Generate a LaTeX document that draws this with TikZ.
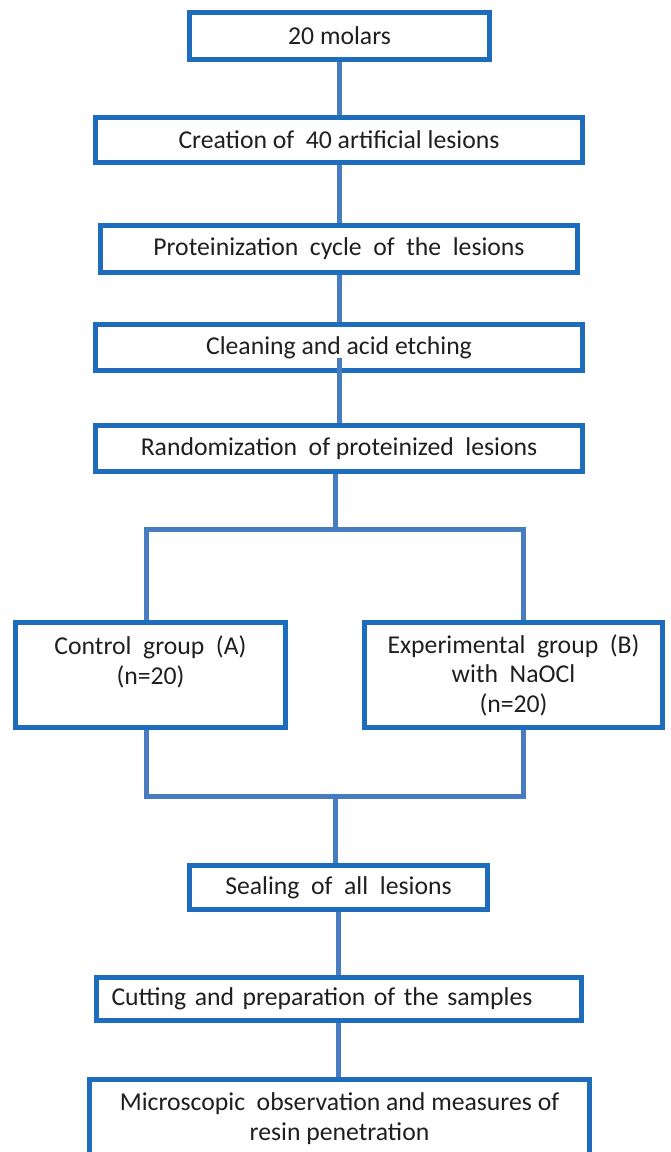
\documentclass[tikz,border=0pt]{standalone}
\usepackage{fontspec}
\setmainfont{Carlito}
\usetikzlibrary{calc}
\definecolor{boxblue}{RGB}{30,108,188}
\definecolor{lineblue}{RGB}{72,124,192}
\begin{document}
\begin{tikzpicture}[x=1pt,y=-1pt,
  box/.style={draw=boxblue, line width=5pt, fill=white, inner sep=0pt,
    font=\fontsize{25.7}{29.5}\selectfont, align=center, text=black!88},
  link/.style={draw=lineblue, line width=5pt}]
\useasboundingbox (0,0) rectangle (670,1152);

\node[box, minimum width=300pt, minimum height=47pt] (b1) at (339.5,36) {20 molars};
\node[box, minimum width=487pt, minimum height=45pt] (b2) at (339,140) {Creation of\ \ 40 artificial lesions};
\node[box, minimum width=477pt, minimum height=47pt] (b3) at (339,249) {Proteinization\ \ cycle\ \ of\ \ the\ \ lesions};
\node[box, minimum width=487pt, minimum height=46pt] (b4) at (339,347.5) {Cleaning and acid etching};
\node[box, minimum width=487pt, minimum height=46pt] (b5) at (339,448.5) {Randomization\ \ of proteinized\ \ lesions};
\node[box, minimum width=270pt, minimum height=105pt] (ctrl) at (150.5,675) {Control\ \ group\ \ (A)\\(n=20)\\\mbox{}};
\node[box, minimum width=298pt, minimum height=105pt] (exp) at (513.5,675) {Experimental\ \ group\ \ (B)\\with\ \ NaOCl\\(n=20)};
\node[box, minimum width=298pt, minimum height=44pt] (seal) at (338.5,887.5) {Sealing\ \ of\ \ all\ \ lesions};
\node[box, minimum height=43pt, text width=455pt, inner xsep=15pt, align=left] (cut) at (339,999) {Cutting and preparation of the samples};
\node[box, minimum width=500pt, minimum height=104pt] (micro) at (339.5,1131.5) {Microscopic\ \ observation and measures of\\resin penetration\\\mbox{}};

\draw[link] (b1.south) -- (b1.south |- b2.north);
\draw[link] (b2.south) -- (b2.south |- b3.north);
\draw[link] (b3.south) -- (b3.south |- b4.north);
\draw[link] ($(b4.south)+(0,-15)$) -- (b4.south |- b5.north);

\coordinate (split) at (335,529);
\coordinate (la) at ([xshift=-4.5pt]ctrl.north);
\coordinate (lb) at ([xshift=9.5pt]exp.north);
\draw[link] (b5.south -| split) -- (split);
\draw[link] (la) -- (la |- split) -- (lb |- split) -- (lb);

\coordinate (merge) at (335,796);
\coordinate (la2) at ([xshift=-4.5pt]ctrl.south);
\coordinate (lb2) at ([xshift=9.5pt]exp.south);
\draw[link] (la2) -- (la2 |- merge) -- (lb2 |- merge) -- (lb2);
\draw[link] (merge) -- (seal.north -| merge);

\draw[link] (seal.south) -- (seal.south |- cut.north);
\draw[link] (cut.south -| seal.south) -- (seal.south |- micro.north);
\end{tikzpicture}
\end{document}
